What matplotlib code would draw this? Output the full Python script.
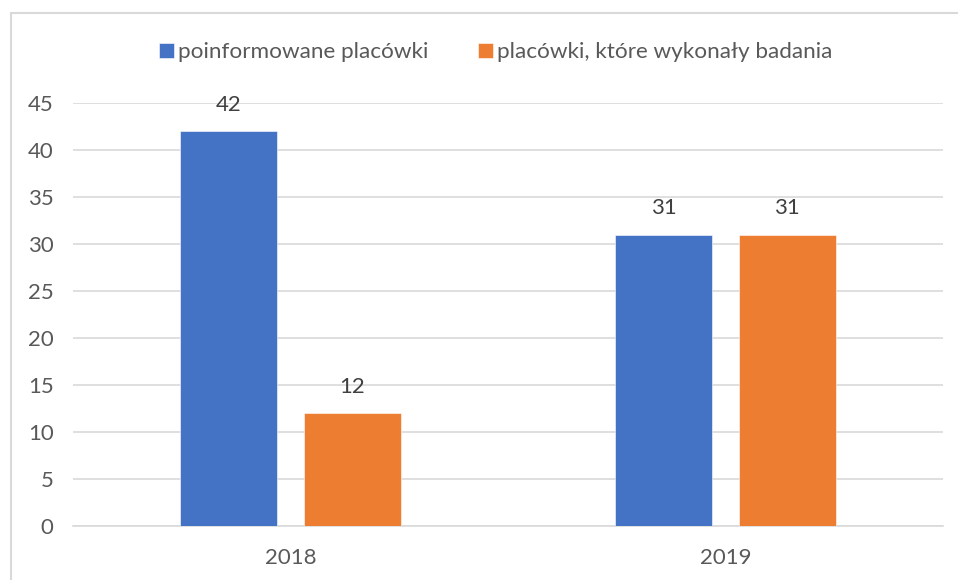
import numpy as np
import matplotlib.pyplot as plt
from matplotlib.patches import Rectangle

# data
years = ['2018', '2019']
series_names = ['poinformowane placówki', 'placówki, które wykonały badania']
informed = [42, 31]
tested = [12, 31]

colors = ['#4472C4', '#ED7D31']
text_gray = '#595959'
grid_gray = '#D9D9D9'

plt.rcParams['font.family'] = ['Lato', 'DejaVu Sans']

fig = plt.figure(figsize=(9.58, 5.80), dpi=100)
ax = fig.add_axes([73 / 958, 1 - 526 / 580, 870 / 958, 423 / 580])

# light frame around the chart area (cut by the image edge on right and bottom)
fig.patches.append(Rectangle((10.5 / 958, -0.1), 1.0, 1 - 13.5 / 580 + 0.1,
                             transform=fig.transFigure, fill=False,
                             edgecolor=grid_gray, linewidth=1.5, zorder=0))

x = np.arange(len(years))
width = 0.223
offset = 0.1415
for i, (vals, name) in enumerate(zip([informed, tested], series_names)):
    pos = x + (offset if i else -offset)
    b = ax.bar(pos, vals, width, color=colors[i], label=name, zorder=3,
               edgecolor='white', linewidth=0.4)
    ax.bar_label(b, padding=12, fontsize=16, color='#404040')

ax.set_xlim(-0.5, 1.5)
ax.set_ylim(0, 45)
ax.set_yticks(np.arange(0, 46, 5))
ax.set_xticks(x, years)
ax.yaxis.grid(True, color=grid_gray, linewidth=1.2, zorder=0)
ax.set_axisbelow(True)
for s in ['top', 'right', 'left']:
    ax.spines[s].set_visible(False)
ax.spines['bottom'].set_color(grid_gray)
ax.spines['bottom'].set_linewidth(1.2)
ax.tick_params(axis='both', length=0, labelsize=16, colors=text_gray)
ax.tick_params(axis='y', pad=14)
ax.tick_params(axis='x', pad=16)

fig.legend(loc='center', bbox_to_anchor=(496 / 958, 1 - 52 / 580), ncol=2,
           frameon=False, fontsize=16.2, labelcolor=text_gray,
           handlelength=0.65, handleheight=0.65, handletextpad=0.2,
           columnspacing=2.2)

fig.savefig('out.png', dpi=100)
